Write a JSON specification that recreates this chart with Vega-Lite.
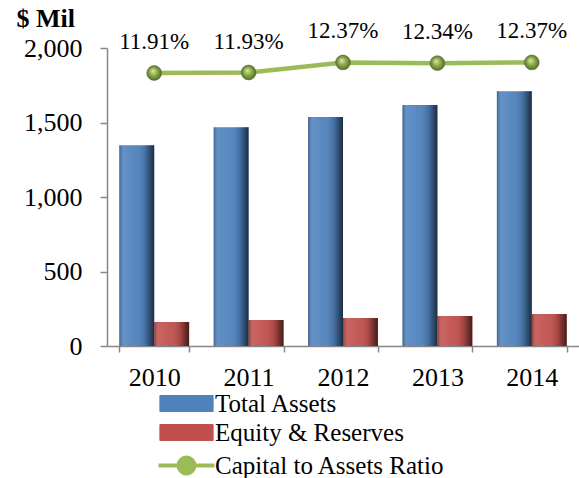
{
  "$schema": "https://vega.github.io/schema/vega-lite/v6.json",
  "width": 472,
  "height": 298,
  "autosize": {"type": "none"},
  "padding": {"left": 107, "top": 48, "right": 0, "bottom": 132},
  "background": "white",
  "config": {"font": "Liberation Serif", "view": {"stroke": null}, "text": {"font": "Liberation Serif"}},
  "datasets": {
    "bars": [
      {"year": "2010", "series": "Total Assets", "value": 1347},
      {"year": "2011", "series": "Total Assets", "value": 1468},
      {"year": "2012", "series": "Total Assets", "value": 1537},
      {"year": "2013", "series": "Total Assets", "value": 1617},
      {"year": "2014", "series": "Total Assets", "value": 1710},
      {"year": "2010", "series": "Equity  & Reserves", "value": 161},
      {"year": "2011", "series": "Equity  & Reserves", "value": 174},
      {"year": "2012", "series": "Equity  & Reserves", "value": 188},
      {"year": "2013", "series": "Equity  & Reserves", "value": 201},
      {"year": "2014", "series": "Equity  & Reserves", "value": 215}
    ],
    "ratio": [
      {"year": "2010", "ratio": 0.1191},
      {"year": "2011", "ratio": 0.1193},
      {"year": "2012", "ratio": 0.1237},
      {"year": "2013", "ratio": 0.1234},
      {"year": "2014", "ratio": 0.1237}
    ]
  },
  "layer": [
    {
      "data": {"name": "bars"},
      "layer": [
        {
          "mark": {"type": "bar"},
          "encoding": {
            "x": {
              "field": "year", "type": "ordinal",
              "scale": {"paddingInner": 0.26, "paddingOuter": 0.13},
              "axis": {
                "title": null, "labelAngle": 0, "labelFont": "Liberation Serif", "labelFontSize": 26,
                "labelColor": "black", "tickBand": "extent", "tickSize": 6, "tickWidth": 1.5,
                "tickColor": "#878787", "domainColor": "#878787", "domainWidth": 1.5, "labelPadding": 12
              }
            },
            "xOffset": {"field": "series", "sort": ["Total Assets", "Equity  & Reserves"]},
            "y": {
              "field": "value", "type": "quantitative",
              "scale": {"domain": [0, 2000], "nice": false},
              "axis": {
                "title": "$ Mil", "titleAngle": 0, "titleAlign": "left", "titleBaseline": "alphabetic",
                "titleX": -91, "titleY": -22, "titleFont": "Liberation Serif", "titleFontWeight": "bold",
                "titleFontSize": 26, "titleColor": "black",
                "values": [0, 500, 1000, 1500, 2000], "format": ",.0f", "grid": false,
                "labelFont": "Liberation Serif", "labelFontSize": 26, "labelColor": "black", "labelPadding": 18,
                "tickSize": 7, "tickWidth": 1.5, "tickColor": "#878787", "domainColor": "#878787", "domainWidth": 1.5
              }
            },
            "color": {
              "field": "series", "type": "nominal",
              "scale": {
                "domain": ["Total Assets", "Equity  & Reserves", "Capital to Assets Ratio"],
                "range": ["#4f81bd", "#c0504d", "#9bbb59"]
              },
              "legend": {
                "orient": "none", "legendX": 67, "legendY": 343, "direction": "vertical", "title": null,
                "labelFont": "Liberation Serif", "labelFontSize": 25, "labelColor": "black", "labelLimit": 500,
                "symbolSize": 400, "labelOffset": 16, "rowPadding": 3,
                "encode": {
                  "symbols": {
                    "update": {
                      "shape": {"signal": "datum.value === 'Capital to Assets Ratio' ? 'M-1,0H1M0.286,0A0.286,0.286,0,1,1,-0.286,0A0.286,0.286,0,1,1,0.286,0' : 'M-0.95,-0.286H0.95V0.286H-0.95Z'"},
                      "fill": {"signal": "datum.value === 'Capital to Assets Ratio' ? '#76923c' : datum.value === 'Total Assets' ? '#4f81bd' : '#c0504d'"},
                      "stroke": {"signal": "datum.value === 'Capital to Assets Ratio' ? '#9bbb59' : datum.value === 'Total Assets' ? '#385d8a' : '#8c3836'"},
                      "strokeWidth": {"signal": "datum.value === 'Capital to Assets Ratio' ? 4 : 1"},
                      "size": {"value": 3136},
                      "opacity": {"value": 1},
                      "fillOpacity": {"value": 1}
                    }
                  }
                }
              }
            }
          }
        },
        {
          "mark": {
            "type": "bar",
            "fill": {
              "gradient": "linear", "x1": 0, "y1": 0, "x2": 1, "y2": 0,
              "stops": [
                {"offset": 0, "color": "rgba(0,0,0,0.25)"},
                {"offset": 0.12, "color": "rgba(255,255,255,0.12)"},
                {"offset": 0.45, "color": "rgba(255,255,255,0.05)"},
                {"offset": 0.75, "color": "rgba(0,0,0,0.15)"},
                {"offset": 1, "color": "rgba(0,0,0,0.65)"}
              ]
            }
          },
          "encoding": {
            "x": {"field": "year", "type": "ordinal"},
            "xOffset": {"field": "series", "sort": ["Total Assets", "Equity  & Reserves"]},
            "y": {"field": "value", "type": "quantitative", "scale": {"domain": [0, 2000], "nice": false}}
          }
        }
      ]
    },
    {
      "data": {"name": "ratio"},
      "encoding": {
        "x": {"field": "year", "type": "ordinal"},
        "y": {"field": "ratio", "type": "quantitative", "scale": {"domain": [0, 0.13], "nice": false}, "axis": null}
      },
      "layer": [
        {
          "mark": {"type": "line", "strokeWidth": 4.5},
          "encoding": {
            "color": {
              "datum": "Capital to Assets Ratio",
              "legend": {
                "orient": "none", "legendX": 67, "legendY": 343, "direction": "vertical", "title": null,
                "labelFont": "Liberation Serif", "labelFontSize": 25, "labelColor": "black", "labelLimit": 500,
                "symbolSize": 400, "labelOffset": 16, "rowPadding": 3
              }
            }
          }
        },
        {
          "mark": {
            "type": "point", "shape": "circle", "filled": true, "size": 220, "opacity": 1,
            "stroke": "#4f6228", "strokeWidth": 0.5,
            "fill": {
              "gradient": "radial", "x1": 0.4, "y1": 0.35, "r1": 0, "x2": 0.5, "y2": 0.5, "r2": 0.55,
              "stops": [
                {"offset": 0, "color": "#dbe9b8"},
                {"offset": 0.45, "color": "#8fb04c"},
                {"offset": 1, "color": "#4f6228"}
              ]
            }
          },
          "encoding": {}
        },
        {
          "mark": {"type": "text", "dy": -31, "baseline": "middle", "font": "Liberation Serif", "fontSize": 23, "color": "black"},
          "encoding": {"text": {"field": "ratio", "type": "quantitative", "format": ".2%"}}
        }
      ]
    }
  ],
  "resolve": {"scale": {"y": "independent"}}
}
